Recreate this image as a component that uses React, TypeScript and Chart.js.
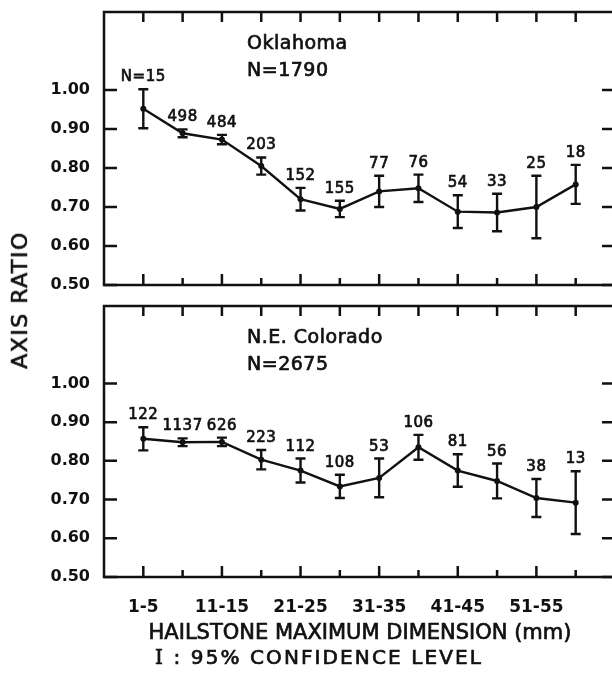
import React, { useEffect, useRef } from 'react';
import { Chart, registerables } from 'chart.js';

Chart.register(...registerables);

const FONT = '"DejaVu Sans", sans-serif';
const INK = '#111';

const categories = ['1-5', '6-10', '11-15', '16-20', '21-25', '26-30', '31-35', '36-40', '41-45', '46-50', '51-55', '56-60'];
const yTickValues = [0.5, 0.6, 0.7, 0.8, 0.9, 1.0];

const okMean = [0.952, 0.889, 0.873, 0.805, 0.72, 0.695, 0.74, 0.748, 0.688, 0.686, 0.7, 0.758];
const okErr = [0.05, 0.01, 0.012, 0.022, 0.029, 0.021, 0.04, 0.035, 0.042, 0.048, 0.08, 0.05];
const okCounts = ['N=15', '498', '484', '203', '152', '155', '77', '76', '54', '33', '25', '18'];
const okTitle = ['Oklahoma', 'N=1790'];

const coMean = [0.857, 0.848, 0.849, 0.803, 0.775, 0.734, 0.756, 0.835, 0.775, 0.748, 0.704, 0.692];
const coErr = [0.03, 0.01, 0.011, 0.025, 0.031, 0.03, 0.05, 0.032, 0.042, 0.045, 0.049, 0.081];
const coCounts = ['122', '1137', '626', '223', '112', '108', '53', '106', '81', '56', '38', '13'];
const coTitle = ['N.E. Colorado', 'N=2675'];

function zeroPad(s: any) {
  s.paddingTop = 0;
  s.paddingBottom = 0;
  s.paddingLeft = 0;
  s.paddingRight = 0;
}

function heavyText(ctx: any, text: string, x: number, y: number) {
  ctx.fillText(text, x, y);
  ctx.lineWidth = 0.7;
  ctx.strokeText(text, x, y);
}

function makeConfig(mean: number[], err: number[], counts: string[], title: string[], showX: boolean, pad: any): any {
  const decor = {
    id: 'decor',
    afterDatasetsDraw(chart: any) {
      const { ctx, chartArea: a } = chart;
      const x = chart.scales.x;
      const y = chart.scales.y;
      ctx.save();
      ctx.strokeStyle = INK;
      ctx.fillStyle = INK;
      // error bars + counts
      mean.forEach((v, i) => {
        const px = x.getPixelForValue(i);
        const top = y.getPixelForValue(v + err[i]);
        const bot = y.getPixelForValue(v - err[i]);
        ctx.lineWidth = 2.4;
        ctx.beginPath();
        ctx.moveTo(px, top);
        ctx.lineTo(px, bot);
        ctx.moveTo(px - 5, top);
        ctx.lineTo(px + 5, top);
        ctx.moveTo(px - 5, bot);
        ctx.lineTo(px + 5, bot);
        ctx.stroke();
        ctx.font = `15px ${FONT}`;
        ctx.letterSpacing = '0.5px';
        ctx.textAlign = 'center';
        ctx.textBaseline = 'alphabetic';
        heavyText(ctx, counts[i], px, top - 8);
      });
      // panel title
      ctx.letterSpacing = '0.5px';
      ctx.textAlign = 'left';
      ctx.font = `19px ${FONT}`;
      heavyText(ctx, title[0], a.left + 143, a.top + 37);
      heavyText(ctx, title[1], a.left + 143, a.top + 64);
      ctx.letterSpacing = '0px';
      // frame
      ctx.lineWidth = 2.5;
      ctx.strokeRect(a.left, a.top, a.right - a.left, a.bottom - a.top);
      // inward y ticks
      ctx.beginPath();
      yTickValues.forEach((v) => {
        const py = y.getPixelForValue(v);
        ctx.moveTo(a.left, py);
        ctx.lineTo(a.left + 13, py);
        ctx.moveTo(a.right - 13, py);
        ctx.lineTo(a.right, py);
      });
      // inward x ticks
      categories.forEach((_, i) => {
        const px = x.getPixelForValue(i);
        ctx.moveTo(px, a.top);
        ctx.lineTo(px, a.top + 10);
        ctx.moveTo(px, a.bottom);
        ctx.lineTo(px, a.bottom - (i % 2 === 0 ? 11 : 7));
      });
      ctx.stroke();
      ctx.restore();
    },
  };

  return {
    type: 'line',
    data: {
      datasets: [
        {
          data: mean.map((v, i) => ({ x: i, y: v })),
          borderColor: INK,
          borderWidth: 2.4,
          pointRadius: 3,
          pointBackgroundColor: INK,
          pointBorderWidth: 0,
          tension: 0,
          fill: false,
        },
      ],
    },
    options: {
      responsive: false,
      animation: false,
      devicePixelRatio: 1,
      layout: { padding: pad },
      plugins: { legend: { display: false }, tooltip: { enabled: false }, title: { display: false } },
      scales: {
        x: {
          type: 'linear',
          min: -1,
          max: 12,
          display: showX,
          afterFit(s: any) {
            s.height = showX ? 99 : 0;
            zeroPad(s);
          },
          grid: { display: false, drawTicks: false },
          border: { display: false },
          ticks: {
            stepSize: 1,
            autoSkip: false,
            maxRotation: 0,
            minRotation: 0,
            padding: 20,
            color: INK,
            font: { family: FONT, size: 17, weight: 'bold' },
            callback: (v: any) => {
              const n = Math.round(Number(v));
              return Math.abs(n - Number(v)) < 1e-6 && n >= 0 && n < categories.length && n % 2 === 0 ? categories[n] : '';
            },
          },
        },
        y: {
          min: 0.5,
          max: 1.2,
          afterFit(s: any) {
            s.width = 104;
            zeroPad(s);
          },
          grid: { display: false, drawTicks: false },
          border: { display: false },
          ticks: {
            stepSize: 0.1,
            autoSkip: false,
            padding: 14,
            color: INK,
            font: { family: FONT, size: 16, weight: 'bold' },
            callback: (v: any) => (Number(v) <= 1.0001 ? Number(v).toFixed(2) : ''),
          },
        },
      },
    },
    plugins: [decor],
  };
}

export default function App() {
  const topRef = useRef<HTMLCanvasElement>(null);
  const botRef = useRef<HTMLCanvasElement>(null);

  useEffect(() => {
    const c1 = new Chart(topRef.current as HTMLCanvasElement, makeConfig(okMean, okErr, okCounts, okTitle, false, { left: 0, right: 5, top: 12, bottom: 11 }));
    const c2 = new Chart(botRef.current as HTMLCanvasElement, makeConfig(coMean, coErr, coCounts, coTitle, true, { left: 0, right: 5, top: 10, bottom: 0 }));
    return () => {
      c1.destroy();
      c2.destroy();
    };
  }, []);

  const heavy: any = { WebkitTextStroke: '0.7px #111' };

  return (
    <div style={{ position: 'absolute', left: 0, top: 0, width: 612, height: 676, overflow: 'hidden', background: '#fff', color: INK, fontFamily: FONT }}>
      <canvas ref={topRef} width={620} height={296} style={{ position: 'absolute', left: 0, top: 0, width: 620, height: 296 }} />
      <canvas ref={botRef} width={620} height={380} style={{ position: 'absolute', left: 0, top: 296, width: 620, height: 380 }} />
      <div
        style={{
          ...heavy,
          position: 'absolute',
          left: 20,
          top: 300,
          transform: 'translate(-50%, -50%) rotate(-90deg)',
          whiteSpace: 'nowrap',
          fontSize: 22,
          letterSpacing: 1.5,
          lineHeight: 1,
        }}
      >
        AXIS RATIO
      </div>
      <div
        style={{
          ...heavy,
          position: 'absolute',
          left: 360,
          top: 632,
          transform: 'translate(-50%, -50%)',
          whiteSpace: 'nowrap',
          fontSize: 21,
          lineHeight: 1,
        }}
      >
        HAILSTONE MAXIMUM DIMENSION (mm)
      </div>
      <div
        style={{
          ...heavy,
          position: 'absolute',
          left: 319,
          top: 657,
          transform: 'translate(-50%, -50%)',
          whiteSpace: 'nowrap',
          fontSize: 20,
          letterSpacing: 2.1,
          lineHeight: 1,
        }}
      >
        <span style={{ fontFamily: '"DejaVu Serif", serif' }}>I</span> : 95% CONFIDENCE LEVEL
      </div>
    </div>
  );
}
